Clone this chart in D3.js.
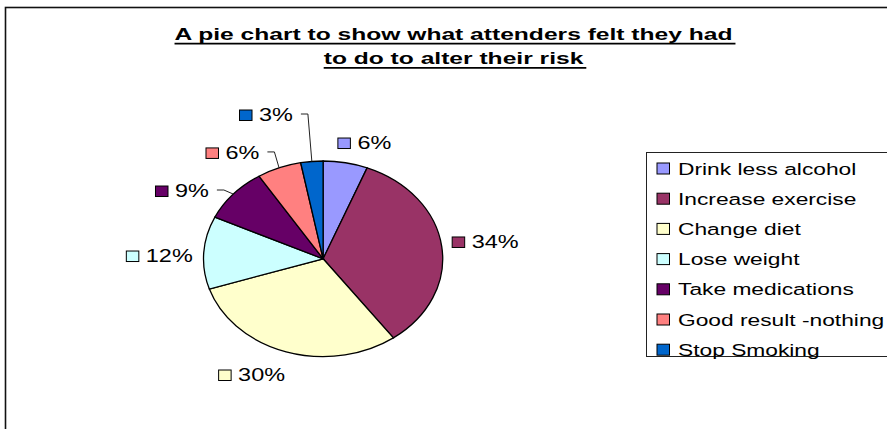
<!DOCTYPE html>
<html>
<head>
<meta charset="utf-8">
<script src="https://cdn.jsdelivr.net/npm/d3@7"></script>
<style>
  body { margin: 0; background: #fff; }
  svg { display: block; }
  text { font-family: "Liberation Sans", Arial, sans-serif; }
</style>
</head>
<body>
<div id="chart"></div>
<script>
// data
var categories = ["Drink less alcohol", "Increase exercise", "Change diet", "Lose weight",
                  "Take medications", "Good result -nothing", "Stop Smoking"];
var values = [6, 34, 30, 12, 9, 6, 3];
var colors = ["#9999FF", "#993366", "#FFFFCC", "#CCFFFF", "#660066", "#FF8080", "#0066CC"];
var titleLines = ["A pie chart to show what attenders felt they had", "to do to alter their risk"];

// layout (the excel picture is stretched sideways, so text gets scaled in x)
var W = 887, H = 429;
var cx = 323.1, cy = 258.8, rx = 119.6, ry = 97.8;
var textSX = 1.34, titleSX = 1.43;
var labelGap = 10;
// excel moved some labels by hand, keep those offsets here
var labelNudge = [[-10, -3.5], [0, -2.5], [2, 7.5], [-1, 4.4], [-17, 7.8], [-16, 0.4], [-18, -30]];
var hasLeader = [false, false, false, false, true, true, true];

var svg = d3.select("#chart").append("svg")
    .attr("width", W)
    .attr("height", H);

// outer chart frame, runs off the right/bottom of the picture
svg.append("rect")
    .attr("x", 5.5).attr("y", 7.5)
    .attr("width", W + 20).attr("height", H + 20)
    .attr("fill", "white")
    .attr("stroke", "#111").attr("stroke-width", 1.6);

//scaled text helper, returns the text node
function stext(g, str, x, y, size, sx, anchor, weight){
    var t = g.append("text")
      .attr("transform", "translate(" + x + "," + y + ") scale(" + sx + ",1)")
      .attr("text-anchor", anchor || "start")
      .attr("font-size", size)
      .attr("font-weight", weight || "normal")
      .attr("fill", "#000")
      .text(str);
    return t;
}

// title with underline
var titleX = 453.5;
titleLines.forEach(function(line, i){
    var base = 40 + i * 24.3;
    var t = stext(svg, line, titleX, base, 17.2, titleSX, "middle", "bold");
    var w = t.node().getComputedTextLength() * titleSX;
    svg.append("line")
      .attr("x1", titleX - w / 2).attr("x2", titleX + w / 2 + 3)
      .attr("y1", base + 3.6).attr("y2", base + 3.6)
      .attr("stroke", "#000").attr("stroke-width", 1.6);
});

// pie, drawn as a circle of radius ry and stretched in x
var pie = d3.pie().sort(null).value(function(d){ return d; });
var arcs = pie(values);
var arc = d3.arc().innerRadius(0).outerRadius(ry);

var pieG = svg.append("g")
    .attr("transform", "translate(" + cx + "," + cy + ") scale(" + (rx / ry) + ",1)");

pieG.selectAll("path.slice")
    .data(arcs)
  .enter().append("path")
    .attr("class", "slice")
    .attr("d", arc)
    .attr("fill", function(d, i){ return colors[i]; })
    .attr("stroke", "#000")
    .attr("stroke-width", 1.3)
    .attr("vector-effect", "non-scaling-stroke");

// data labels: swatch + percent, placed outside the slice like excel does
var labelG = svg.append("g");
arcs.forEach(function(d, i){
    var a = (d.startAngle + d.endAngle) / 2;
    var s = Math.sin(a), c = Math.cos(a);
    var px = cx + (rx + labelGap) * s;
    var py = cy - (ry + labelGap) * c;

    var g = labelG.append("g");
    var t = stext(g, values[i] + "%", 0, 0, 17.5, textSX);
    var tw = t.node().getComputedTextLength() * textSX;
    var w = 13 + 7 + tw, h = 13;

    var left = s >= 0 ? px : px - w;
    var top = py - h * (1 + c) / 2;
    left += labelNudge[i][0];
    var mid = top + h / 2 + labelNudge[i][1];

    g.append("rect")
      .attr("x", left + 0.5).attr("y", mid - 5)
      .attr("width", 12.5).attr("height", 10.5)
      .attr("fill", colors[i])
      .attr("stroke", "#000").attr("stroke-width", 1);
    t.attr("transform", "translate(" + (left + 20) + "," + (mid + 6.3) + ") scale(" + textSX + ",1)");

    if(hasLeader[i]){
      var ex = cx + rx * s, ey = cy - ry * c;
      var sx0 = left + w + 8;
      labelG.append("polyline")
        .attr("points", [[sx0, mid - 1], [sx0 + 7, mid - 1], [ex, ey]].join(" "))
        .attr("fill", "none")
        .attr("stroke", "#222").attr("stroke-width", 1);
    }
});

// legend box
var legX = 646.5, legY = 152.5, legH = 204, rowH = 30.2;
var legend = svg.append("g");
legend.append("rect")
    .attr("x", legX).attr("y", legY)
    .attr("width", W).attr("height", legH)
    .attr("fill", "white")
    .attr("stroke", "#222").attr("stroke-width", 1);

categories.forEach(function(name, i){
    var yc = legY + 16 + i * rowH;
    legend.append("rect")
      .attr("x", legX + 10.5).attr("y", yc - 5.5)
      .attr("width", 12.5).attr("height", 11)
      .attr("fill", colors[i])
      .attr("stroke", "#000").attr("stroke-width", 1);
    stext(legend, name, legX + 31.5, yc + 6, 17, textSX);
});
</script>
</body>
</html>
